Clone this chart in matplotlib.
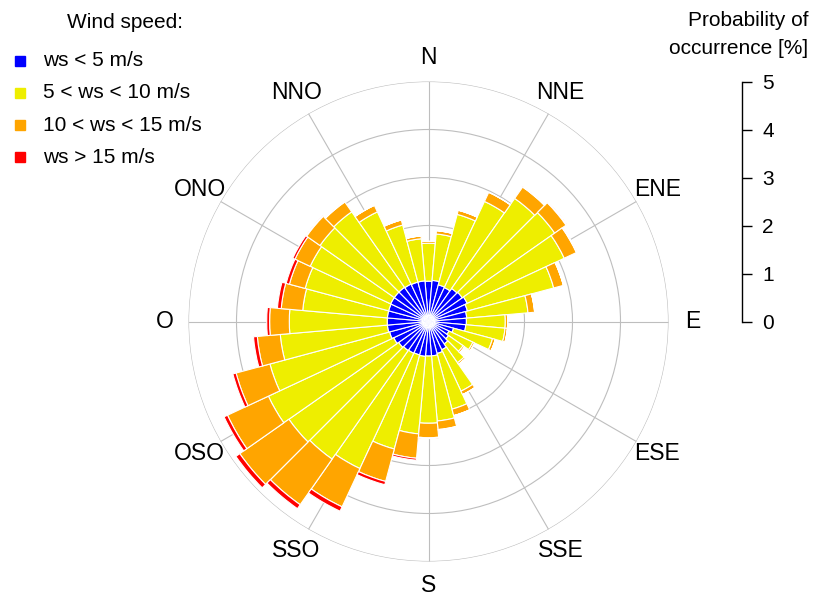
import numpy as np
import matplotlib
matplotlib.use("Agg")
import matplotlib.pyplot as plt
from matplotlib.patches import Rectangle

plt.rcParams['font.family'] = ['Liberation Sans', 'DejaVu Sans']

# direction of each sector (degrees, clockwise from north)
directions = list(range(0, 360, 10))

# probability of occurrence [%] per speed class
ws_lt5 = [0.84, 0.86, 0.79, 0.78, 0.84, 0.86, 0.89, 0.84, 0.80, 0.79, 0.78, 0.54,
          0.47, 0.51, 0.57, 0.65, 0.69, 0.72, 0.72, 0.73, 0.72, 0.73, 0.74, 0.76,
          0.80, 0.84, 0.86, 0.86, 0.86, 0.86, 0.87, 0.87, 0.87, 0.86, 0.85, 0.85]
ws_5_10 = [0.79, 0.97, 1.52, 1.98, 2.29, 2.35, 2.23, 1.86, 1.28, 0.81, 0.82, 0.84,
           0.55, 0.37, 0.48, 0.95, 1.20, 1.36, 1.40, 1.62, 2.03, 2.65, 2.76, 2.79,
           2.88, 2.58, 2.24, 2.04, 1.77, 1.80, 1.85, 1.89, 1.92, 1.66, 1.23, 0.88]
ws_10_15 = [0.04, 0.07, 0.09, 0.21, 0.29, 0.29, 0.28, 0.21, 0.14, 0.05, 0.05, 0.06,
            0.04, 0.04, 0.04, 0.08, 0.14, 0.18, 0.30, 0.51, 0.70, 0.88, 1.16, 1.25,
            0.94, 0.73, 0.48, 0.41, 0.45, 0.34, 0.35, 0.34, 0.25, 0.15, 0.11, 0.06]
ws_gt15 = [0.00, 0.00, 0.00, 0.00, 0.01, 0.02, 0.01, 0.00, 0.00, 0.00, 0.00, 0.00,
           0.00, 0.00, 0.00, 0.00, 0.00, 0.01, 0.02, 0.04, 0.07, 0.10, 0.10, 0.10,
           0.08, 0.07, 0.08, 0.06, 0.08, 0.07, 0.05, 0.02, 0.01, 0.00, 0.00, 0.00]

classes = [ws_lt5, ws_5_10, ws_10_15, ws_gt15]
class_labels = ["ws < 5 m/s", "5 < ws < 10 m/s", "10 < ws < 15 m/s", "ws > 15 m/s"]
colors = ["#0000FF", "#EEEE00", "#FFA500", "#FF0000"]

grid_angles = list(range(0, 360, 30))
grid_labels = ["N", "NNE", "ENE", "E", "ESE", "SSE", "S", "SSO", "OSO", "O", "ONO", "NNO"]
rings = [2, 3, 4, 5]
rmax = 5

W, H = 825, 599
fig = plt.figure(figsize=(W / 100, H / 100), dpi=100)

cx, cy, R = 428.5, 321.5, 240
ax = fig.add_axes([(cx - R) / W, (H - cy - R) / H, 2 * R / W, 2 * R / H], projection='polar')
ax.set_theta_zero_location('N')
ax.set_theta_direction(-1)
ax.set_ylim(0, rmax)
ax.set_axisbelow(True)

theta = np.deg2rad(directions)
bottom = np.zeros(len(directions))
for vals, col in zip(classes, colors):
    vals = np.array(vals)
    ax.bar(theta, vals, width=np.deg2rad(10), bottom=bottom, color=col,
           edgecolor='white', linewidth=0.8, zorder=3)
    bottom += vals

ax.set_xticks(np.deg2rad(grid_angles))
ax.set_xticklabels([])
ax.set_yticks(rings)
ax.set_yticklabels([])
ax.grid(color='#BEBEBE', linewidth=0.8)
ax.spines['polar'].set_visible(False)
ax.tick_params(length=0)

for a, lab in zip(grid_angles, grid_labels):
    ax.text(np.deg2rad(a), 5.5, lab, ha='center', va='center', fontsize=16.5, clip_on=False)

# legend
fig.text(125 / W, 1 - 22 / H, "Wind speed:", ha='center', va='center', fontsize=15)
for i, (lab, col) in enumerate(zip(class_labels, colors)):
    y = 61 + i * 32
    fig.patches.append(Rectangle((15 / W, 1 - (y + 5) / H), 10 / W, 10 / H,
                                 transform=fig.transFigure, color=col))
    fig.text(43 / W, 1 - y / H, lab, ha='left', va='center', fontsize=15)

# scale bar
sx = 742
sax = fig.add_axes([(sx - 2) / W, (H - cy) / H, 2 / W, R / H])
sax.set_ylim(0, rmax)
sax.set_xticks([])
for s in ['left', 'top', 'bottom']:
    sax.spines[s].set_visible(False)
sax.spines['right'].set_linewidth(1.0)
sax.patch.set_visible(False)
sax.yaxis.tick_right()
sax.set_yticks(range(0, 6))
sax.tick_params(axis='y', direction='out', length=7.5, width=1.0, pad=7, labelsize=15)

fig.text(808 / W, 1 - 20 / H, "Probability of", ha='right', va='center', fontsize=15)
fig.text(808 / W, 1 - 48 / H, "occurrence [%]", ha='right', va='center', fontsize=15)

fig.savefig("out.png", dpi=100)
